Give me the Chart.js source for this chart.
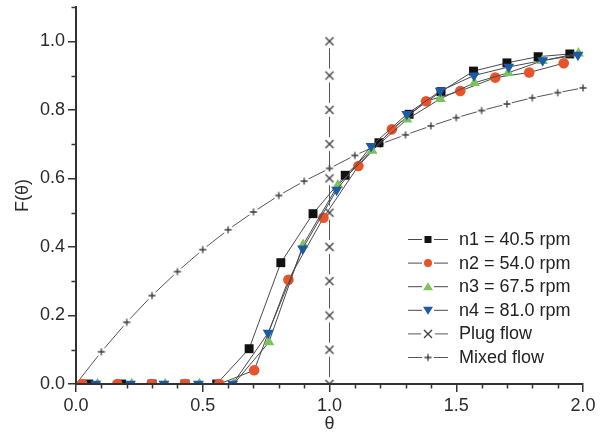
<!DOCTYPE html>
<html>
<head>
<meta charset="utf-8">
<script src="https://cdn.jsdelivr.net/npm/chart.js@4.4.1/dist/chart.umd.min.js"></script>
<style>
html, body { margin: 0; padding: 0; background: #fff; }
</style>
</head>
<body>
<canvas id="rtd-chart" width="610" height="435"></canvas>
<script>
// data
const seriesNames = ['n1 = 40.5 rpm', 'n2 = 54.0 rpm', 'n3 = 67.5 rpm', 'n4 = 81.0 rpm', 'Plug flow', 'Mixed flow'];

const thetaN1 = [0.05, 0.18, 0.30, 0.43, 0.555, 0.683, 0.808, 0.935, 1.062, 1.195, 1.314, 1.44, 1.568, 1.70, 1.823, 1.948];
const fN1 = [0, 0, 0, 0, 0, 0.103, 0.354, 0.497, 0.609, 0.704, 0.787, 0.853, 0.913, 0.937, 0.955, 0.963];

const thetaN2 = [0.025, 0.163, 0.298, 0.43, 0.565, 0.703, 0.838, 0.976, 1.114, 1.246, 1.381, 1.516, 1.654, 1.788, 1.924];
const fN2 = [0, 0, 0, 0, 0, 0.04, 0.304, 0.485, 0.636, 0.743, 0.825, 0.855, 0.894, 0.909, 0.936];

const thetaN3 = [0.085, 0.22, 0.352, 0.487, 0.622, 0.761, 0.896, 1.033, 1.168, 1.305, 1.437, 1.572, 1.705, 1.84, 1.982];
const fN3 = [0, 0, 0, 0, 0, 0.122, 0.406, 0.58, 0.681, 0.772, 0.832, 0.879, 0.908, 0.943, 0.965];

const thetaN4 = [0.078, 0.215, 0.347, 0.483, 0.618, 0.758, 0.894, 1.028, 1.164, 1.305, 1.437, 1.57, 1.707, 1.841, 1.98];
const fN4 = [0, 0, 0, 0, 0, 0.149, 0.395, 0.566, 0.694, 0.787, 0.855, 0.90, 0.925, 0.944, 0.96];

const thetaPlug = [1.0, 1.0, 1.0, 1.0, 1.0, 1.0, 1.0, 1.0, 1.0, 1.0, 1.0];
const fPlug = [0, 0.1, 0.2, 0.3, 0.4, 0.5, 0.6, 0.7, 0.8, 0.9, 1.0];

const thetaMixed = [0, 0.1, 0.2, 0.3, 0.4, 0.5, 0.6, 0.7, 0.8, 0.9, 1.0, 1.1, 1.2, 1.3, 1.4, 1.5, 1.6, 1.7, 1.8, 1.9, 2.0];
const fMixed = [0, 0.094, 0.18, 0.258, 0.328, 0.392, 0.45, 0.502, 0.55, 0.592, 0.629, 0.667, 0.70, 0.727, 0.753, 0.777, 0.798, 0.817, 0.835, 0.85, 0.864];

const FONT = "'Liberation Sans', Arial, sans-serif";
const AXIS = '#333';
const LINE = '#4a4a4a';
const REF_LINE = '#555';
const RED = '#e8532b';
const GREEN = '#7dc35b';
const BLUE = '#1a5aa8';
const BLACK = '#111';

function toPoints(xs, ys) {
    return xs.map((x, i) => ({ x: x, y: ys[i] }));
}

// marker images with a white gap round the symbol (like the original plot)
function makeMark(kind) {
    const c = document.createElement('canvas');
    const size = kind === 'x' ? 16 : 12;
    c.width = size;
    c.height = size;
    const g = c.getContext('2d');
    const m = size / 2;
    g.fillStyle = '#fff';
    g.beginPath();
    g.arc(m, m, m - 1, 0, Math.PI * 2);
    g.fill();
    g.strokeStyle = '#3a3a3a';
    g.lineWidth = 1.3;
    g.beginPath();
    if (kind === 'x') {
        g.moveTo(m - 4, m - 4); g.lineTo(m + 4, m + 4);
        g.moveTo(m + 4, m - 4); g.lineTo(m - 4, m + 4);
    } else {
        g.moveTo(m - 3.5, m); g.lineTo(m + 3.5, m);
        g.moveTo(m, m - 3.5); g.lineTo(m, m + 3.5);
    }
    g.stroke();
    return c;
}

const plugMark = makeMark('x');
const mixedMark = makeMark('+');

const clipArea = { left: 8, top: 8, right: 8, bottom: -1 };

const datasets = [
    {
        label: seriesNames[0], data: toPoints(thetaN1, fN1), order: 4,
        borderColor: LINE, borderWidth: 1, pointStyle: 'rect', pointRadius: 6.3,
        pointBackgroundColor: BLACK, pointBorderColor: BLACK, pointBorderWidth: 0
    },
    {
        label: seriesNames[1], data: toPoints(thetaN2, fN2), order: 3,
        borderColor: LINE, borderWidth: 1, pointStyle: 'circle', pointRadius: 5.3,
        pointBackgroundColor: RED, pointBorderColor: RED, pointBorderWidth: 0
    },
    {
        label: seriesNames[2], data: toPoints(thetaN3, fN3), order: 2,
        borderColor: LINE, borderWidth: 1, pointStyle: 'triangle', pointRadius: 6.3,
        pointBackgroundColor: GREEN, pointBorderColor: GREEN, pointBorderWidth: 0
    },
    {
        label: seriesNames[3], data: toPoints(thetaN4, fN4), order: 1,
        borderColor: LINE, borderWidth: 1, pointStyle: 'triangle', pointRotation: 180, pointRadius: 6.3,
        pointBackgroundColor: BLUE, pointBorderColor: BLUE, pointBorderWidth: 0
    },
    {
        label: seriesNames[4], data: toPoints(thetaPlug, fPlug), order: 5,
        borderColor: REF_LINE, borderWidth: 1, pointStyle: plugMark, pointRadius: 5
    },
    {
        label: seriesNames[5], data: toPoints(thetaMixed, fMixed), order: 6,
        borderColor: REF_LINE, borderWidth: 1, pointStyle: mixedMark,
        pointRadius: ctx => ctx.dataIndex === 0 ? 0 : 4
    }
];
datasets.forEach(d => { d.showLine = true; d.tension = 0; d.clip = clipArea; d.pointHoverRadius = d.pointRadius; });

// minor ticks every 0.1
const minorTicks = {
    id: 'minorTicks',
    afterDraw(chart) {
        const ctx = chart.ctx;
        const xs = chart.scales.x, ys = chart.scales.y;
        const area = chart.chartArea;
        ctx.save();
        ctx.strokeStyle = AXIS;
        ctx.lineWidth = 1.5;
        ctx.beginPath();
        for (let i = 0; i <= 20; i++) {
            if (i % 5 === 0) continue;
            const px = Math.round(xs.getPixelForValue(i / 10)) + 0.5;
            ctx.moveTo(px, area.bottom);
            ctx.lineTo(px, area.bottom + 4.5);
        }
        for (let i = 0; i <= 11; i++) {
            if (i % 2 === 0) continue;
            const py = Math.round(ys.getPixelForValue(i / 10)) + 0.5;
            ctx.moveTo(area.left, py);
            ctx.lineTo(area.left - 4.5, py);
        }
        ctx.stroke();
        ctx.restore();
    }
};

function drawLegendMark(ctx, i, x, y) {
    ctx.save();
    if (i === 0) {
        ctx.fillStyle = BLACK;
        ctx.fillRect(x - 3.5, y - 3.5, 7, 7);
    } else if (i === 1) {
        ctx.fillStyle = RED;
        ctx.beginPath(); ctx.arc(x, y, 4, 0, Math.PI * 2); ctx.fill();
    } else if (i === 2 || i === 3) {
        const s = i === 2 ? -1 : 1;
        ctx.fillStyle = i === 2 ? GREEN : BLUE;
        ctx.beginPath();
        ctx.moveTo(x - 5, y - 3.5 * s);
        ctx.lineTo(x + 5, y - 3.5 * s);
        ctx.lineTo(x, y + 4.5 * s);
        ctx.closePath();
        ctx.fill();
    } else {
        ctx.drawImage(i === 4 ? plugMark : mixedMark, x - (i === 4 ? 8 : 6), y - (i === 4 ? 8 : 6));
    }
    ctx.restore();
}

const insideLegend = {
    id: 'insideLegend',
    afterDraw(chart) {
        const ctx = chart.ctx;
        const x0 = 408, x1 = 448, mx = 428, tx = 459;
        ctx.save();
        ctx.font = '18px ' + FONT;
        ctx.textBaseline = 'middle';
        ctx.fillStyle = '#222';
        seriesNames.forEach((name, i) => {
            const y = 239 + i * 23.6;
            ctx.strokeStyle = i < 4 ? LINE : REF_LINE;
            ctx.lineWidth = 1;
            ctx.beginPath();
            ctx.moveTo(x0, y + 0.5); ctx.lineTo(mx - 6, y + 0.5);
            ctx.moveTo(mx + 6, y + 0.5); ctx.lineTo(x1, y + 0.5);
            ctx.stroke();
            drawLegendMark(ctx, i, mx, y + 0.5);
            ctx.fillText(name, tx, y + 1);
        });
        ctx.restore();
    }
};

const tickFont = { family: FONT, size: 18 };

new Chart(document.getElementById('rtd-chart').getContext('2d'), {
    type: 'scatter',
    data: { datasets: datasets },
    options: {
        responsive: false,
        animation: false,
        devicePixelRatio: 1,
        layout: { padding: { top: 7, right: 27, left: 0, bottom: 0 } },
        plugins: {
            legend: { display: false },
            tooltip: { enabled: false }
        },
        scales: {
            x: {
                type: 'linear', position: 'bottom', min: 0, max: 2,
                ticks: {
                    stepSize: 0.5, font: tickFont, color: '#2a2a2a', padding: 3,
                    maxRotation: 0, autoSkip: false, includeBounds: false,
                    callback: v => v.toFixed(1)
                },
                grid: { drawOnChartArea: false, drawTicks: true, tickLength: 8, color: AXIS, lineWidth: 1.5 },
                border: { display: true, color: AXIS, width: 2 },
                title: { display: true, text: 'θ', font: tickFont, color: '#2a2a2a', padding: { top: 0, bottom: 0 } },
                afterFit: s => { s.height = 51; s.paddingLeft = 0; s.paddingRight = 0; }
            },
            y: {
                type: 'linear', position: 'left', min: 0, max: 1.1,
                ticks: {
                    stepSize: 0.2, font: tickFont, color: '#2a2a2a', padding: 3,
                    includeBounds: false,
                    callback: v => v.toFixed(1)
                },
                grid: { drawOnChartArea: false, drawTicks: true, tickLength: 8, color: AXIS, lineWidth: 1.5 },
                border: { display: true, color: AXIS, width: 2 },
                title: { display: true, text: 'F(θ)', font: tickFont, color: '#2a2a2a', padding: { top: 12, bottom: 0 } },
                afterFit: s => { s.width = 76; s.paddingTop = 0; s.paddingBottom = 0; }
            }
        }
    },
    plugins: [minorTicks, insideLegend]
});
</script>
</body>
</html>
